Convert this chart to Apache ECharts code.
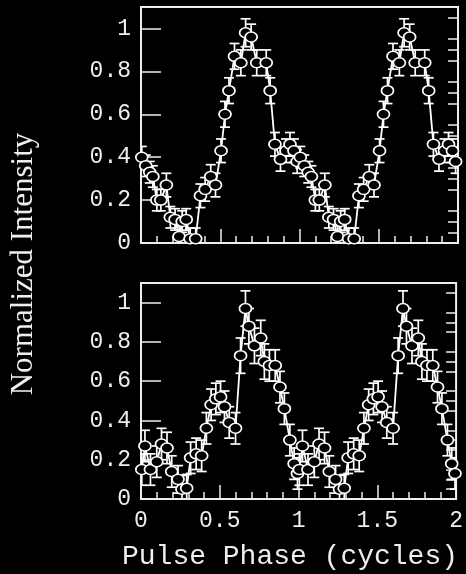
<!DOCTYPE html>
<html>
<head>
<meta charset="utf-8">
<script src="https://cdn.jsdelivr.net/npm/echarts@6/dist/echarts.min.js"></script>
<style>
  html, body { margin: 0; padding: 0; background: #000; }
  #chart { width: 466px; height: 574px; }
</style>
</head>
<body>
<div id="chart"></div>
<script>
// one pulse cycle per panel, plotted twice (phase 0-2)
const topPhase = [0.005, 0.03, 0.055, 0.075, 0.10, 0.125, 0.16, 0.185, 0.215, 0.24, 0.26, 0.285, 0.31, 0.345,
  0.375, 0.405, 0.44, 0.47, 0.505, 0.53, 0.555, 0.59, 0.63, 0.66, 0.695, 0.73, 0.79, 0.815, 0.845, 0.88,
  0.915, 0.94, 0.965, 0.985];
const topValue = [0.40, 0.36, 0.33, 0.31, 0.20, 0.20, 0.27, 0.12, 0.11, 0.03, 0.10, 0.11, 0.02, 0.02,
  0.22, 0.25, 0.31, 0.27, 0.43, 0.60, 0.71, 0.87, 0.84, 0.98, 0.96, 0.84, 0.84, 0.71, 0.46, 0.39,
  0.43, 0.46, 0.43, 0.38];
const topError = [0.05, 0.05, 0.05, 0.05, 0.05, 0.05, 0.055, 0.05, 0.05, 0.05, 0.05, 0.05, 0.05, 0.05,
  0.055, 0.055, 0.055, 0.055, 0.055, 0.06, 0.06, 0.06, 0.06, 0.065, 0.06, 0.06, 0.06, 0.06, 0.055, 0.055,
  0.055, 0.055, 0.055, 0.055];

const botPhase = [0.005, 0.025, 0.06, 0.10, 0.13, 0.165, 0.195, 0.235, 0.26, 0.29, 0.315, 0.35, 0.385,
  0.415, 0.445, 0.475, 0.505, 0.53, 0.56, 0.60, 0.632, 0.663, 0.685, 0.72, 0.76, 0.783, 0.815, 0.852,
  0.882, 0.91, 0.945, 0.972, 0.993];
const botValue = [0.15, 0.27, 0.15, 0.19, 0.28, 0.26, 0.14, 0.10, 0.05, 0.055, 0.21, 0.23, 0.22,
  0.36, 0.48, 0.51, 0.52, 0.47, 0.39, 0.36, 0.73, 0.97, 0.88, 0.78, 0.82, 0.70, 0.68, 0.68,
  0.57, 0.46, 0.30, 0.18, 0.13];
const botError = [0.08, 0.08, 0.08, 0.08, 0.08, 0.08, 0.08, 0.07, 0.07, 0.07, 0.08, 0.08, 0.08,
  0.08, 0.08, 0.08, 0.08, 0.08, 0.08, 0.08, 0.09, 0.09, 0.09, 0.09, 0.09, 0.09, 0.08, 0.08,
  0.08, 0.08, 0.08, 0.08, 0.08];

const xTicks = [0, 0.5, 1, 1.5, 2];
const yMajorTicks = [0, 0.2, 0.4, 0.6, 0.8, 1];
const yMinorTicks = [0.05, 0.1, 0.15, 0.25, 0.3, 0.35, 0.45, 0.5, 0.55, 0.65, 0.7, 0.75, 0.85, 0.9, 0.95, 1.05];

const fg = '#eeeeee';
const tickFont = 'Liberation Mono';

// two cycles: [phase, value, error]
function twoCycles(phase, value, err) {
  const out = [];
  [0, 1].forEach((c) => {
    phase.forEach((p, i) => out.push([p + c, value[i], err[i]]));
  });
  return out;
}
const topData = twoCycles(topPhase, topValue, topError);
const botData = twoCycles(botPhase, botValue, botError);

function renderErrorBar(params, api) {
  const x = api.value(0), y = api.value(1), e = api.value(2);
  const hi = api.coord([x, y + e]);
  const lo = api.coord([x, y - e]);
  const cap = 5;
  const style = { stroke: '#fff', lineWidth: 1.7 };
  return {
    type: 'group',
    children: [
      { type: 'line', shape: { x1: hi[0], y1: hi[1], x2: lo[0], y2: lo[1] }, style },
      { type: 'line', shape: { x1: hi[0] - cap, y1: hi[1], x2: hi[0] + cap, y2: hi[1] }, style },
      { type: 'line', shape: { x1: lo[0] - cap, y1: lo[1], x2: lo[0] + cap, y2: lo[1] }, style },
    ],
  };
}

function xAxis(gridIndex, withLabels) {
  return {
    type: 'value', gridIndex, min: 0, max: 2, interval: 0.5,
    axisLine: { show: true, lineStyle: { color: fg, width: 2 } },
    axisTick: { show: true, inside: true, length: 14, lineStyle: { color: fg, width: 1.5 } },
    minorTick: { show: true, splitNumber: 5, length: 7, lineStyle: { color: fg, width: 1.5 } },
    splitLine: { show: false },
    axisLabel: {
      show: withLabels, color: fg, fontFamily: tickFont, fontSize: 23, margin: 10,
      customValues: xTicks,
    },
  };
}

function yAxes(gridIndex) {
  return [
    {
      type: 'value', gridIndex, min: 0, max: 1.1, interval: 0.2,
      axisLine: { show: true, lineStyle: { color: fg, width: 2 } },
      axisTick: { show: true, inside: true, length: 20, customValues: yMajorTicks, lineStyle: { color: fg, width: 1.5 } },
      splitLine: { show: false },
      axisLabel: { color: fg, fontFamily: tickFont, fontSize: 23, margin: 10, customValues: yMajorTicks },
    },
    {
      type: 'value', gridIndex, min: 0, max: 1.1,
      axisLine: { show: false },
      axisTick: { show: true, inside: true, length: 10, customValues: yMinorTicks, lineStyle: { color: fg, width: 1.5 } },
      splitLine: { show: false },
      axisLabel: { show: false },
    },
  ];
}

function panelSeries(data, idx) {
  return [
    {
      type: 'custom', xAxisIndex: idx, yAxisIndex: idx * 2,
      renderItem: renderErrorBar, data, clip: true, silent: true,
    },
    {
      type: 'line', xAxisIndex: idx, yAxisIndex: idx * 2,
      data: data.map((d) => [d[0], d[1]]),
      lineStyle: { color: '#fff', width: 1.8 },
      symbol: 'circle', symbolSize: [12, 10],
      itemStyle: { color: '#000', borderColor: '#fff', borderWidth: 1.6 },
      animation: false, clip: true,
    },
  ];
}

const chart = echarts.init(document.getElementById('chart'), null, { renderer: 'canvas' });
chart.setOption({
  backgroundColor: '#000',
  animation: false,
  grid: [
    { left: 141, top: 7, width: 317, height: 236, show: true, borderColor: fg, borderWidth: 2, backgroundColor: '#000' },
    { left: 141, top: 283, width: 317, height: 216, show: true, borderColor: fg, borderWidth: 2, backgroundColor: '#000' },
  ],
  xAxis: [xAxis(0, false), xAxis(1, true)],
  yAxis: [...yAxes(0), ...yAxes(1)],
  graphic: [
    {
      type: 'text', x: 24, y: 264, rotation: Math.PI / 2,
      style: {
        text: 'Normalized Intensity', fill: fg,
        font: '31px "Liberation Serif"', align: 'center', verticalAlign: 'middle',
      },
    },
    {
      type: 'text', x: 290, y: 557,
      style: {
        text: 'Pulse Phase (cycles)', fill: fg,
        font: '28px "Liberation Mono"', align: 'center', verticalAlign: 'middle',
      },
    },
  ],
  series: [...panelSeries(topData, 0), ...panelSeries(botData, 1)],
});
</script>
</body>
</html>
